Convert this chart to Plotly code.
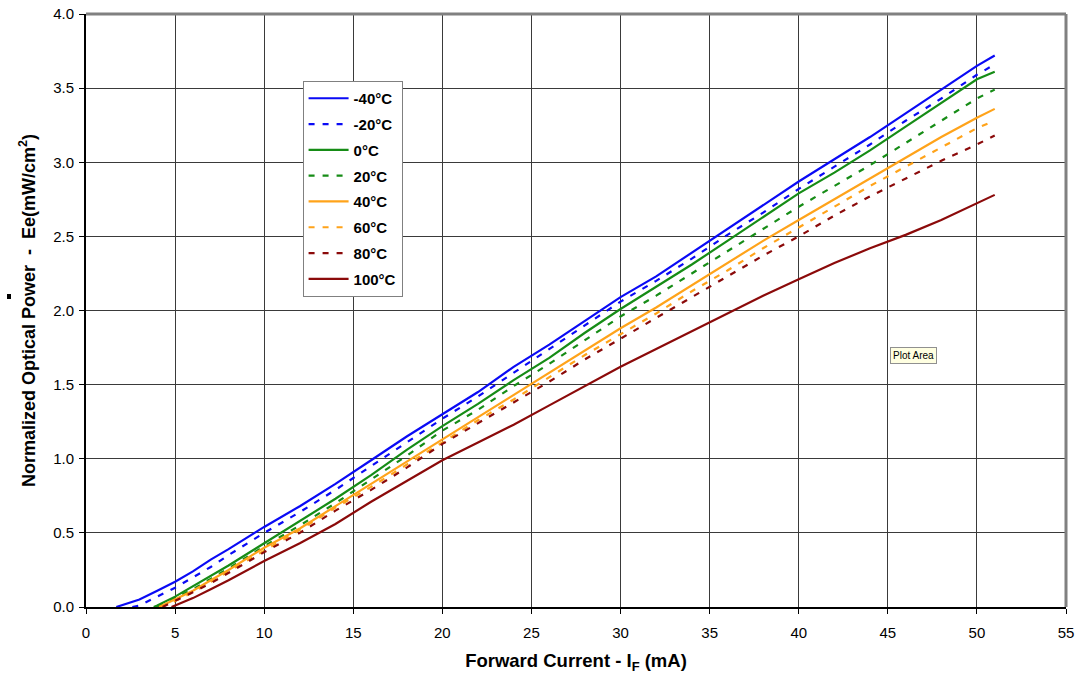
import plotly.graph_objects as go

# Forward current (mA) sample points for each temperature curve
x_m40 = [1.7, 3, 4, 5, 6, 7, 8, 10, 12, 14, 16, 18, 20, 22, 24, 26, 28, 30,
         32, 34, 36, 38, 40, 42, 44, 46, 48, 50, 51]
x_m20 = [2.6, 3, 4, 5, 6, 7, 8, 10, 12, 14, 16, 18, 20, 22, 24, 26, 28, 30,
         32, 34, 36, 38, 40, 42, 44, 46, 48, 50, 51]
x_0 = [3.8, 4, 5, 6, 7, 8, 10, 12, 14, 16, 18, 20, 22, 24, 26, 28, 30,
       32, 34, 36, 38, 40, 42, 44, 46, 48, 50, 51]
x_20 = [4.0, 5, 6, 7, 8, 10, 12, 14, 16, 18, 20, 22, 24, 26, 28, 30,
        32, 34, 36, 38, 40, 42, 44, 46, 48, 50, 51]
x_40 = [4.1, 5, 6, 7, 8, 10, 12, 14, 16, 18, 20, 22, 24, 26, 28, 30,
        32, 34, 36, 38, 40, 42, 44, 46, 48, 50, 51]
x_60 = [4.2, 5, 6, 7, 8, 10, 12, 14, 16, 18, 20, 22, 24, 26, 28, 30,
        32, 34, 36, 38, 40, 42, 44, 46, 48, 50, 51]
x_80 = [4.3, 5, 6, 7, 8, 10, 12, 14, 16, 18, 20, 22, 24, 26, 28, 30,
        32, 34, 36, 38, 40, 42, 44, 46, 48, 50, 51]
x_100 = [4.8, 5, 6, 7, 8, 10, 12, 14, 16, 18, 20, 22, 24, 26, 28, 30,
         32, 34, 36, 38, 40, 42, 44, 46, 48, 50, 51]

# Normalized optical power Ee (mW/cm²)
y_m40 = [0, 0.05, 0.11, 0.17, 0.24, 0.32, 0.39, 0.54, 0.68, 0.83, 0.99, 1.15,
         1.30, 1.45, 1.62, 1.77, 1.93, 2.09, 2.23, 2.39, 2.55, 2.71, 2.87,
         3.02, 3.17, 3.33, 3.49, 3.65, 3.72]
y_m20 = [0, 0.01, 0.07, 0.13, 0.20, 0.27, 0.35, 0.50, 0.64, 0.79, 0.95, 1.11,
         1.27, 1.42, 1.58, 1.74, 1.90, 2.06, 2.20, 2.35, 2.51, 2.66, 2.82,
         2.97, 3.12, 3.28, 3.43, 3.59, 3.66]
y_0 = [0, 0.01, 0.07, 0.14, 0.21, 0.28, 0.43, 0.58, 0.73, 0.89, 1.06, 1.22,
       1.37, 1.53, 1.68, 1.85, 2.01, 2.16, 2.31, 2.47, 2.63, 2.79, 2.93,
       3.08, 3.24, 3.40, 3.56, 3.61]
y_20 = [0, 0.06, 0.12, 0.19, 0.26, 0.41, 0.55, 0.70, 0.86, 1.02, 1.19, 1.33,
        1.49, 1.64, 1.80, 1.96, 2.10, 2.25, 2.40, 2.55, 2.70, 2.84, 2.98,
        3.13, 3.28, 3.43, 3.49]
y_40 = [0, 0.05, 0.11, 0.18, 0.25, 0.40, 0.53, 0.68, 0.83, 0.98, 1.13, 1.28,
        1.43, 1.58, 1.73, 1.88, 2.02, 2.17, 2.32, 2.47, 2.61, 2.75, 2.89,
        3.03, 3.17, 3.30, 3.36]
y_60 = [0, 0.04, 0.10, 0.17, 0.24, 0.38, 0.52, 0.67, 0.81, 0.96, 1.11, 1.26,
        1.40, 1.55, 1.70, 1.84, 1.98, 2.13, 2.27, 2.42, 2.56, 2.70, 2.84,
        2.97, 3.10, 3.23, 3.28]
y_80 = [0, 0.04, 0.10, 0.16, 0.23, 0.37, 0.50, 0.65, 0.79, 0.94, 1.10, 1.24,
        1.38, 1.52, 1.67, 1.81, 1.95, 2.09, 2.23, 2.37, 2.50, 2.64, 2.77,
        2.89, 3.01, 3.12, 3.18]
y_100 = [0, 0.01, 0.06, 0.12, 0.18, 0.31, 0.43, 0.56, 0.71, 0.85, 0.99, 1.11,
         1.23, 1.36, 1.49, 1.62, 1.74, 1.86, 1.98, 2.10, 2.21, 2.32, 2.42,
         2.51, 2.61, 2.72, 2.78]

labels = ["-40°C", "-20°C", "0°C", "20°C", "40°C", "60°C", "80°C", "100°C"]
xs = [x_m40, x_m20, x_0, x_20, x_40, x_60, x_80, x_100]
ys = [y_m40, y_m20, y_0, y_20, y_40, y_60, y_80, y_100]
colors = ["#0A0AF5", "#0A0AF5", "#168C16", "#168C16",
          "#FFA31A", "#FFA31A", "#8B0A0A", "#8B0A0A"]
dashes = ["solid", "6px,8px", "solid", "6px,8px",
          "solid", "6px,8px", "6px,8px", "solid"]

FONT = "Liberation Sans, Arial, sans-serif"

fig = go.Figure()
for i, (lab, xv, yv, c, d) in enumerate(zip(labels, xs, ys, colors, dashes)):
    fig.add_trace(go.Scatter(
        x=xv, y=yv, mode="lines", name=lab, legendgroup=f"g{i}",
        line=dict(color=c, width=2.2, dash=d),
    ))

fig.update_layout(
    width=1075, height=675,
    margin=dict(l=86, r=9, t=14, b=68),
    paper_bgcolor="white", plot_bgcolor="white",
    font=dict(family=FONT, size=15, color="black"),
    showlegend=True,
    legend=dict(
        x=0.221, y=0.887, xanchor="left", yanchor="top",
        bgcolor="white", bordercolor="#808080", borderwidth=1,
        font=dict(family=FONT, size=15, color="black", weight="bold"),
        tracegroupgap=3.3, itemwidth=40,
    ),
    xaxis=dict(
        range=[0, 55], dtick=5, tick0=0, automargin=False,
        showgrid=True, gridcolor="#3a3a3a", gridwidth=1,
        showline=True, linecolor="black", linewidth=2,
        ticks="outside", ticklen=5, tickcolor="black",
        ticklabelstandoff=6,
        zeroline=False,
        title=dict(text="Forward Current - I<sub>F</sub> (mA)",
                   font=dict(family=FONT, size=18.5, weight="bold"),
                   standoff=14),
    ),
    yaxis=dict(
        range=[0, 4.0], dtick=0.5, tick0=0, tickformat=".1f", automargin=False,
        showgrid=True, gridcolor="#3a3a3a", gridwidth=1,
        showline=True, linecolor="black", linewidth=2,
        ticks="outside", ticklen=5, tickcolor="black",
        ticklabelstandoff=2,
        zeroline=False,
        title=dict(text="Normalized Optical Power  -  Ee(mW/cm<sup>2</sup>)",
                   font=dict(family=FONT, size=18, weight="bold"),
                   standoff=13),
    ),
)

# Top and right frame of the plot area
fig.add_shape(type="line", xref="paper", yref="paper", x0=0, x1=1, y0=1, y1=1,
              line=dict(color="#808080", width=3))
fig.add_shape(type="line", xref="paper", yref="paper", x0=1, x1=1, y0=0, y1=1,
              line=dict(color="#808080", width=3))

# Small marker beside the y-axis title
fig.add_shape(type="rect", xref="paper", yref="paper",
              x0=(7 - 86) / 980, x1=(11 - 86) / 980,
              y0=(607 - 299) / 593, y1=(607 - 294) / 593,
              fillcolor="black", line=dict(width=0))

# "Plot Area" hover tag
fig.add_annotation(xref="paper", yref="paper", x=(913 - 86) / 980, y=(607 - 355) / 593,
                   xanchor="center", yanchor="middle",
                   text="Plot Area", showarrow=False,
                   font=dict(family=FONT, size=10, color="black"),
                   bgcolor="#FFFFE1", bordercolor="#909090", borderwidth=1, borderpad=2)

fig.write_html("out.html")
